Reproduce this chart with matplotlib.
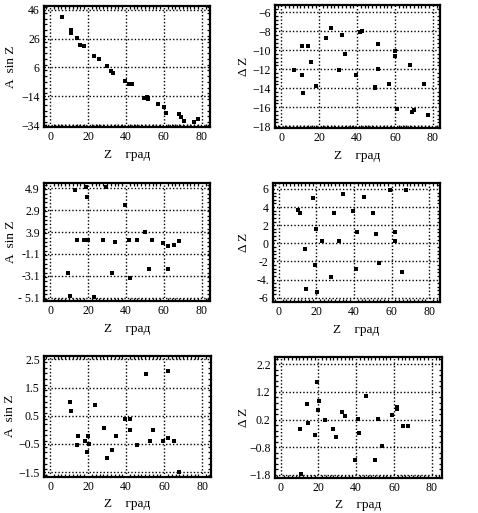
import matplotlib
matplotlib.use("Agg")
import matplotlib.pyplot as plt
from matplotlib.ticker import MultipleLocator

plt.rcParams["font.family"] = ["Liberation Serif", "DejaVu Serif"]

# Panel 1: A sin Z vs Z
z1 = [6.2, 10.9, 11.1, 14.1, 15.8, 18.1, 23.4, 26.0, 30.2, 32.2, 33.4, 39.4, 41.8,
      43.1, 49.6, 51.0, 51.5, 56.8, 60.1, 61.0, 68.2, 69.1, 70.7, 75.9, 77.7]
a1 = [41.4, 32.1, 29.8, 26.3, 21.7, 21.0, 14.0, 11.9, 7.3, 3.6, 2.0, -3.4, -5.5,
      -5.5, -15.0, -14.3, -15.9, -19.6, -21.7, -25.4, -26.6, -28.2, -31.0, -32.1, -30.1]

# Panel 2: delta Z vs Z
z2 = [6.5, 11.1, 11.1, 11.4, 14.1, 15.8, 18.1, 23.4, 26.2, 30.4, 32.2, 33.4, 39.2, 41.3,
      42.4, 49.2, 49.6, 51.3, 51.0, 56.8, 59.9, 59.9, 61.0, 67.8, 68.9, 70.3, 75.6, 77.5]
d2 = [-12.07, -9.53, -12.6, -14.54, -9.53, -11.22, -13.77, -8.65, -7.66, -12.07, -8.4,
      -10.38, -12.6, -8.08, -7.94, -13.84, -13.94, -9.35, -12.0, -13.59, -10.1, -10.6,
      -16.2, -11.58, -16.48, -16.3, -13.59, -16.84]

# Panel 3: A sin Z vs Z
z3 = [9.3, 10.6, 13.4, 14.1, 17.9, 19.1, 19.5, 20.2, 23.4, 28.1, 29.5, 32.4, 34.2,
      39.4, 41.7, 41.9, 45.6, 50.1, 52.2, 53.7, 59.4, 62.1, 62.1, 65.3, 67.8]
a3 = [-2.87, -4.95, 4.75, 0.17, 0.17, 5.0, 4.14, 0.17, -5.07, 0.17, 5.0, -2.87, -0.01,
      3.38, 0.17, -3.27, 0.17, 0.94, -2.51, 0.17, -0.13, -0.37, -2.45, -0.31, 0.08]

# Panel 4: delta Z vs Z
z4 = [9.9, 11.2, 13.8, 14.4, 17.9, 19.1, 19.5, 20.4, 23.2, 28.0, 29.3, 32.1, 34.2,
      39.2, 41.3, 41.7, 45.4, 50.2, 51.9, 53.4, 59.0, 61.9, 61.9, 65.4, 67.6]
d4 = [3.68, 3.31, -0.62, -5.04, 4.97, -2.39, 1.58, -5.34, 0.26, -3.68, 3.39, 0.26, 5.45,
      3.57, -2.83, 1.22, 5.15, 3.39, 0.99, -2.13, 5.89, 1.22, 0.26, -3.13, 5.89]

# Panel 5: A sin Z vs Z
z5 = [10.3, 11.0, 14.2, 14.6, 18.3, 19.6, 19.9, 20.6, 23.6, 28.4, 29.9, 32.7, 34.5,
      39.6, 41.9, 42.1, 45.9, 50.3, 52.4, 53.9, 59.6, 62.2, 62.2, 65.4, 67.9]
a5 = [0.99, 0.67, -0.53, -0.21, -0.41, -0.8, -0.21, -0.49, 0.88, 0.08, -1.0, -0.7, -0.21,
      0.4, 0.4, -0.02, -0.53, 1.98, -0.41, -0.02, -0.41, 2.08, -0.29, -0.41, -1.5]

# Panel 6: delta Z vs Z
z6 = [10.2, 10.9, 13.8, 14.3, 18.2, 19.1, 19.6, 20.3, 23.5, 27.9, 29.3, 32.3, 34.3,
      39.4, 41.2, 41.5, 45.2, 50.0, 51.8, 53.5, 58.8, 61.8, 61.8, 65.0, 67.3]
d6 = [-0.15, -1.78, 0.76, 0.06, -0.35, 1.57, 0.55, 0.86, 0.18, -0.15, -0.44, 0.48, 0.34,
      -1.26, 0.22, -0.27, 1.07, -1.26, 0.22, -0.75, 0.36, 0.67, 0.57, -0.03, -0.03]

x_ticks = [0, 20, 40, 60, 80]
y1_ticks = [46, 26, 6, -14, -34]
y2_ticks = [-6, -8, -10, -12, -14, -16, -18]
y3_ticks = [4.9, 2.9, 0.9, -1.1, -3.1, -5.1]
y3_labels = ["4.9", "2.9", "3.9", "-1.1", "-3.1", "- 5.1"]
y4_ticks = [6, 4, 2, 0, -2, -4, -6]
y4_labels = ["6", "4", "2", "0", "-2", "-4.", "-6"]
y5_ticks = [2.5, 1.5, 0.5, -0.5, -1.5]
y6_ticks = [2.2, 1.2, 0.2, -0.8, -1.8]

fig = plt.figure(figsize=(4.78, 5.13), dpi=100)

panels = [
    # rect, x, y, ylim, xlim, yticks, ylabels, ylabel, ylabel x
    ([0.092, 0.7524, 0.347, 0.236], z1, a1, (-35.4, 48.8), (-3.2, 84.2), y1_ticks, None, "A  sin Z", -0.165),
    ([0.575, 0.7505, 0.345, 0.240], z2, d2, (-18.2, -5.2), (-3.5, 83.7), y2_ticks, None, "\u0394 Z", -0.15),
    ([0.092, 0.4133, 0.347, 0.2306], z3, a3, (-5.4, 5.41), (-3.2, 84.2), y3_ticks, y3_labels, "A  sin Z", -0.165),
    ([0.571, 0.4113, 0.349, 0.232], z4, d4, (-6.47, 6.66), (-3.2, 85.7), y4_ticks, y4_labels, "\u0394 Z", -0.14),
    ([0.092, 0.0708, 0.349, 0.236], z5, a5, (-1.66, 2.63), (-3.2, 84.5), y5_ticks, None, "A  sin Z", -0.165),
    ([0.575, 0.0688, 0.349, 0.2347], z6, d6, (-1.9, 2.45), (-3.0, 85.2), y6_ticks, None, "\u0394 Z", -0.15),
]

for rect, xs, ys, ylim, xlim, yticks, ylabels, ylab, ylab_x in panels:
    ax = fig.add_axes(rect)
    ax.scatter(xs, ys, marker="s", s=6, color="black", linewidths=0, zorder=3)
    ax.set_xlim(*xlim)
    ax.set_ylim(*ylim)
    ax.set_xticks(x_ticks)
    ax.set_yticks(yticks)
    if ylabels is not None:
        ax.set_yticklabels(ylabels)
    ax.xaxis.set_minor_locator(MultipleLocator(2))
    step = abs(yticks[0] - yticks[1]) / 5
    ax.yaxis.set_minor_locator(MultipleLocator(step))
    ax.grid(True, which="major", color="black", linestyle=(0, (1, 1.5)), linewidth=1.0)
    ax.tick_params(which="both", direction="in", top=True, right=True, labelsize=8.5,
                   width=0.9, color="black")
    ax.tick_params(which="major", length=0, pad=3)
    ax.tick_params(which="minor", length=2.2)
    for sp in ax.spines.values():
        sp.set_linewidth(1.6)
    ax.set_xlabel("Z    \u0433\u0440\u0430\u0434", fontsize=9.5, labelpad=4)
    ax.set_ylabel(ylab, fontsize=9.5)
    ax.yaxis.set_label_coords(ylab_x, 0.5)

fig.savefig("out.png", dpi=100)
